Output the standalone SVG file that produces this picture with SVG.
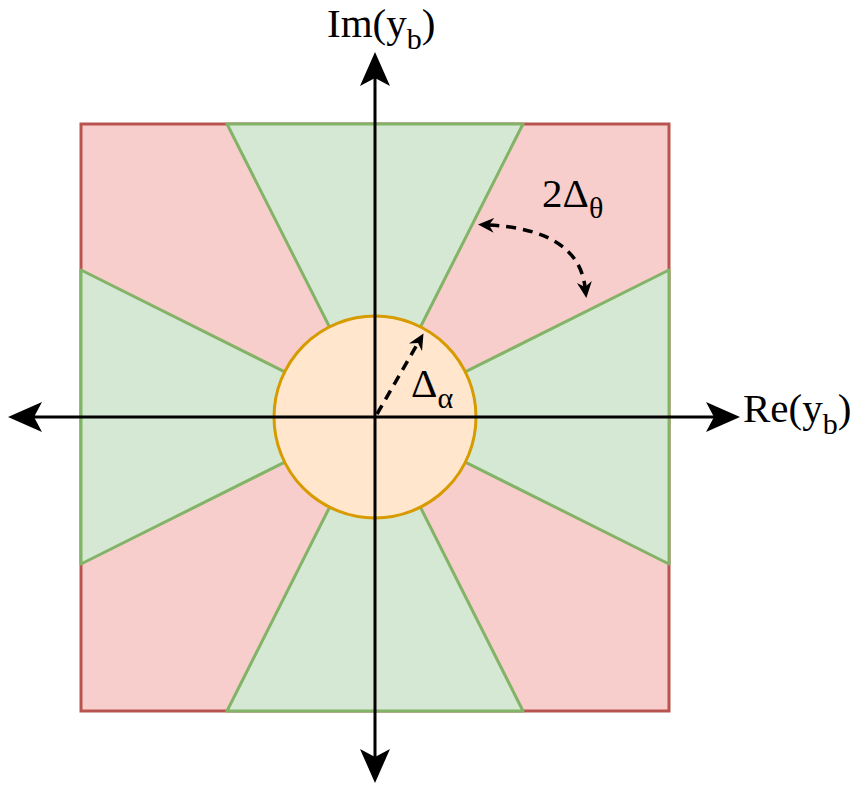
<svg xmlns="http://www.w3.org/2000/svg" width="864" height="785" viewBox="0 0 864 785">
<style>
.txt{font-family:"Liberation Serif","Times New Roman",serif;font-size:41px;fill:#000}
.sub{font-size:30px}
.green{fill:#d5e8d4;stroke:#82b366;stroke-width:3;stroke-linejoin:round}
.axis{stroke:#000;stroke-width:3;fill:none}
.dash{stroke:#000;stroke-width:3.5;fill:none;stroke-dasharray:10 7}
</style>
<defs>
<marker id="big" markerUnits="userSpaceOnUse" markerWidth="34" markerHeight="30" viewBox="0 -15 34 30" refX="8" refY="0" orient="auto-start-reverse">
<path d="M0,-15 L34,0 L0,15 L8,0 Z" fill="#000"/>
</marker>
<marker id="small" markerUnits="userSpaceOnUse" markerWidth="17" markerHeight="16" viewBox="0 -8 17 16" refX="5" refY="0" orient="auto-start-reverse">
<path d="M0,-7.5 L16,0 L0,7.5 L5,0 Z" fill="#000"/>
</marker>
</defs>
<g id="background">
<rect x="81" y="124" width="588" height="587" fill="#f8cecc" stroke="#b85450" stroke-width="3"/>
</g>
<g id="wedge-top"><polygon class="green" points="375,417 227,124 523,124"/></g>
<g id="wedge-right"><polygon class="green" points="375,417 669,270 669,564"/></g>
<g id="wedge-bottom"><polygon class="green" points="375,417 227,711 523,711"/></g>
<g id="wedge-left"><polygon class="green" points="375,417 81,270 81,564"/></g>
<g id="circle"><circle cx="375" cy="417" r="101" fill="#ffe6cc" stroke="#d79b00" stroke-width="3"/></g>
<g id="connectors">
<line class="axis" x1="34" y1="417" x2="714" y2="417" marker-start="url(#big)" marker-end="url(#big)"/>
<line class="axis" x1="375" y1="78" x2="375" y2="757" marker-start="url(#big)" marker-end="url(#big)"/>
<path class="dash" d="M489,225 Q578,230 585,287" marker-start="url(#small)" marker-end="url(#small)"/>
<line class="dash" x1="377" y1="414" x2="418" y2="343" marker-end="url(#small)"/>
</g>
<g id="labels">
<text class="txt" x="327" y="37">Im(y<tspan class="sub" dy="12">b</tspan><tspan dy="-12">)</tspan></text>
<text class="txt" x="743" y="422">Re(y<tspan class="sub" dy="12">b</tspan><tspan dy="-12">)</tspan></text>
<text class="txt" x="542" y="207">2Δ<tspan class="sub" dy="11">θ</tspan></text>
<text class="txt" x="411" y="397">Δ<tspan class="sub" dy="11">α</tspan></text>
</g>
</svg>
